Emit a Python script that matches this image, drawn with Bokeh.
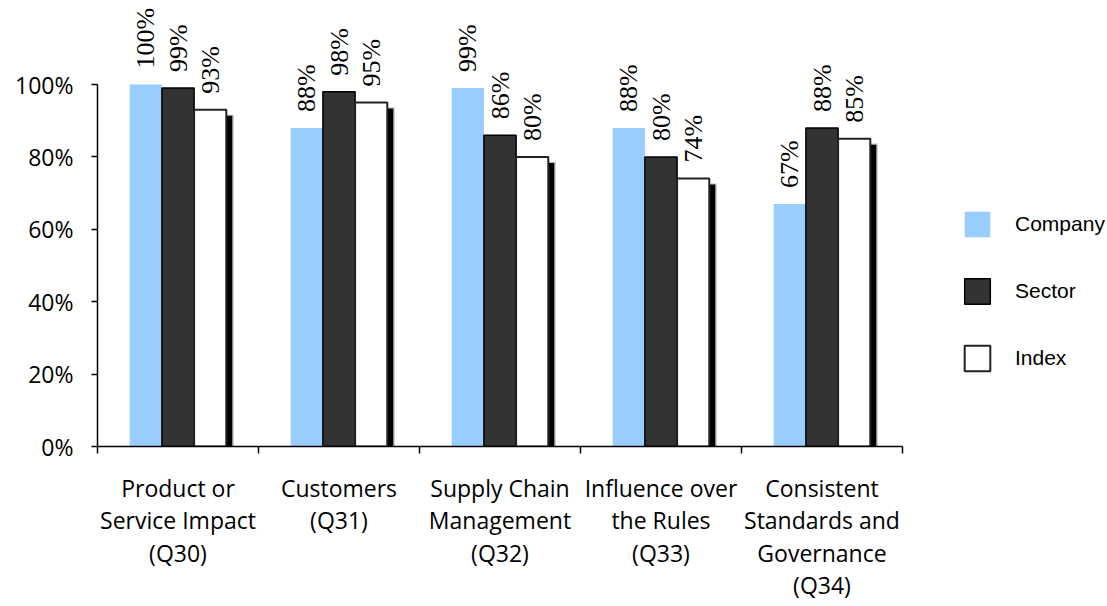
import math
from bokeh.plotting import figure
from bokeh.models import (Range1d, FixedTicker, NumeralTickFormatter, ColumnDataSource,
                          Legend, LegendItem)
from bokeh.core.properties import value
from bokeh.embed import file_html
from bokeh.resources import INLINE

# ---- data ----
categories = ["Product or\nService Impact\n(Q30)", "Customers\n(Q31)",
              "Supply Chain\nManagement\n(Q32)", "Influence over\nthe Rules\n(Q33)",
              "Consistent\nStandards and\nGovernance\n(Q34)"]
company = [100, 88, 99, 88, 67]
sector = [99, 98, 86, 80, 88]
index = [93, 95, 80, 74, 85]
series_names = ["Company", "Sector", "Index"]
y_ticks = [0, 20, 40, 60, 80, 100]

# ---- layout ----
W, H = 1105, 604
LEFT, BOTTOM = 97, 158
frame_w = W - LEFT
frame_h = H - BOTTOM
px_per_group = 161.0
x_end = frame_w / px_per_group
px_per_unit_y = 362.0
y_end = frame_h / px_per_unit_y

n = len(categories)
centers = [i + 0.5 for i in range(n)]
bw = 0.2

p = figure(width=W, height=H, output_backend="svg", toolbar_location=None,
           x_range=Range1d(0, x_end), y_range=Range1d(0, y_end),
           min_border_left=LEFT, min_border_bottom=BOTTOM, min_border_top=0,
           min_border_right=0, outline_line_color=None, background_fill_color="white")
p.xgrid.visible = False
p.ygrid.visible = False

def src(vals, shift):
    return ColumnDataSource(dict(x=[c + shift for c in centers],
                                 top=[v / 100 for v in vals],
                                 label=[f"{v}%" for v in vals]))

s_c = src(company, -bw)
s_s = src(sector, 0)
s_i = src(index, bw)

# shadow for index bars
dx = 6 / px_per_group
dy = 6 / px_per_unit_y
shadow = ColumnDataSource(dict(x=[c + bw + dx for c in centers],
                               top=[v / 100 - dy for v in index]))
halo = ColumnDataSource(dict(x=[c + bw + dx * 1.25 for c in centers],
                             top=[v / 100 - dy * 0.8 for v in index]))
p.vbar(x="x", top="top", bottom=0, width=bw, source=halo, fill_color="#9a9a9a",
       fill_alpha=0.6, line_color=None)
p.vbar(x="x", top="top", bottom=0, width=bw, source=shadow, fill_color="black",
       line_color=None)

r_c = p.vbar(x="x", top="top", bottom=0, width=bw, source=s_c, fill_color="#99CCFF",
             line_color=None)
r_s = p.vbar(x="x", top="top", bottom=0, width=bw, source=s_s, fill_color="#333333",
             line_color="black", line_width=1.5)
r_i = p.vbar(x="x", top="top", bottom=0, width=bw, source=s_i, fill_color="white",
             line_color="#222222", line_width=2)

for s in (s_c, s_s, s_i):
    p.text(x="x", y="top", text="label", source=s, angle=math.pi / 2,
           text_align="left", text_baseline="middle", y_offset=-16,
           text_font=value("Liberation Sans Narrow"), text_font_size="26px",
           text_color="black")

# axes
xa = p.xaxis[0]
xa.ticker = FixedTicker(ticks=centers, minor_ticks=list(range(n + 1)))
xa.major_label_overrides = {c: lab for c, lab in zip(centers, categories)}
xa.bounds = (0, n)
xa.axis_line_color = "black"
xa.axis_line_width = 1.5
xa.major_tick_line_color = None
xa.minor_tick_line_color = "black"
xa.minor_tick_line_width = 1.5
xa.minor_tick_out = 7
xa.minor_tick_in = 0
xa.major_label_text_font = "Open Sans"
xa.major_label_text_font_size = "23px"
xa.major_label_text_color = "black"
xa.major_label_text_line_height = 1.02
xa.major_label_standoff = 18

ya = p.yaxis[0]
ya.ticker = FixedTicker(ticks=[t / 100 for t in y_ticks], minor_ticks=[])
ya.formatter = NumeralTickFormatter(format="0%")
ya.bounds = (0, 1)
ya.axis_line_color = "black"
ya.axis_line_width = 1.5
ya.major_tick_line_color = "black"
ya.major_tick_line_width = 1.5
ya.major_tick_out = 6
ya.major_tick_in = 0
ya.minor_tick_line_color = None
ya.major_label_text_font = "Open Sans"
ya.major_label_text_font_size = "23px"
ya.major_label_text_color = "black"
ya.major_label_standoff = 18

legend = Legend(items=[LegendItem(label=series_names[0], renderers=[r_c]),
                       LegendItem(label=series_names[1], renderers=[r_s]),
                       LegendItem(label=series_names[2], renderers=[r_i])],
                location=(864, 72), glyph_width=32, glyph_height=32, spacing=35,
                label_standoff=22, padding=0, margin=0, border_line_color=None,
                background_fill_alpha=0, label_text_font="Liberation Sans",
                label_text_font_size="21px", label_text_color="black")
p.add_layout(legend)

open("out.html", "w").write(file_html(p, INLINE))
